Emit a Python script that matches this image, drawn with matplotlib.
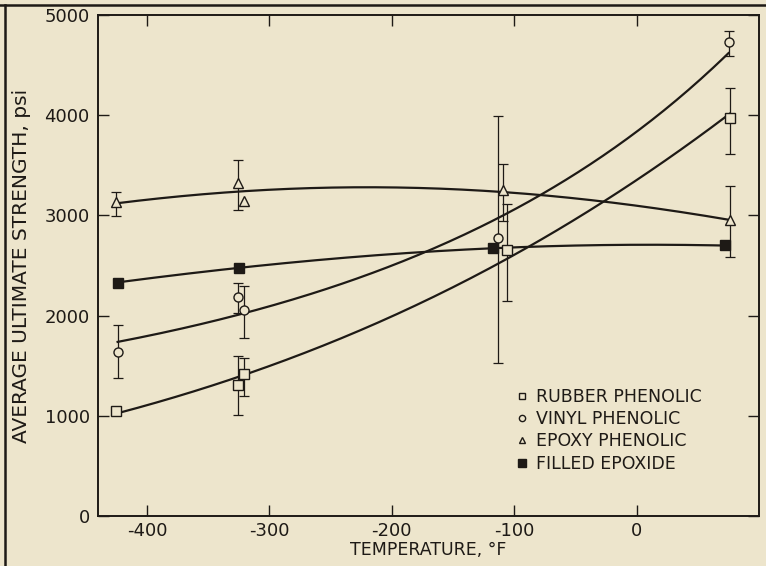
import matplotlib
matplotlib.use("Agg")
import matplotlib.pyplot as plt
from matplotlib.lines import Line2D
import numpy as np

nan = np.nan

# values (temperature in deg F, strength in psi)
rubber_x = [-425, -326, -321, -106, 76]
rubber_y = [1050, 1310, 1420, 2650, 3970]
rubber_lo = [nan, 1010, 1200, 2150, 3610]
rubber_hi = [nan, 1600, 1580, 3110, 4270]

vinyl_x = [-424, -326, -321, -113, 75]
vinyl_y = [1640, 2190, 2060, 2770, 4730]
vinyl_lo = [1380, 2030, 1780, 1530, 4590]
vinyl_hi = [1910, 2330, 2300, 3990, 4840]

epoxy_x = [-425, -326, -321, -109, 76]
epoxy_y = [3130, 3320, 3140, 3250, 2950]
epoxy_lo = [2990, 3050, nan, 2940, 2580]
epoxy_hi = [3230, 3550, nan, 3510, 3290]

filled_x = [-424, -325, -117, 72]
filled_y = [2330, 2480, 2670, 2700]

labels = ["RUBBER PHENOLIC", "VINYL PHENOLIC", "EPOXY PHENOLIC", "FILLED EPOXIDE"]

bg = "#ede5cc"
ink = "#1e1a16"

plt.rcParams["axes.unicode_minus"] = False
plt.rcParams["font.family"] = "DejaVu Sans"

fig = plt.figure(figsize=(7.66, 5.66), dpi=100, facecolor=bg)
ax = fig.add_axes([0.128, 0.0883, 0.863, 0.8852], facecolor=bg)


def draw(xs, ys, lo, hi, marker, ms, fill):
    xs = np.array(xs, float)
    ys = np.array(ys, float)
    # smooth trend line fitted to the points
    coef = np.polyfit(xs, np.log(ys), 2)
    xx = np.linspace(xs.min(), xs.max(), 200)
    ax.plot(xx, np.exp(np.polyval(coef, xx)), color=ink, lw=1.6, zorder=2)
    if lo is not None:
        err = [ys - np.array(lo), np.array(hi) - ys]
        ax.errorbar(xs, ys, yerr=err, fmt="none", ecolor=ink, elinewidth=0.9,
                    capsize=3.5, capthick=0.9, zorder=3)
    ax.plot(xs, ys, linestyle="none", marker=marker, ms=ms, mec=ink, mew=1.0,
            mfc=ink if fill else bg, zorder=4)


draw(rubber_x, rubber_y, rubber_lo, rubber_hi, "s", 7, False)
draw(vinyl_x, vinyl_y, vinyl_lo, vinyl_hi, "o", 6.5, False)
draw(epoxy_x, epoxy_y, epoxy_lo, epoxy_hi, "^", 7.5, False)
draw(filled_x, filled_y, None, None, "s", 7.5, True)

ax.set_xlim(-440, 100)
ax.set_ylim(0, 5000)
ax.set_xticks([-400, -300, -200, -100, 0])
ax.set_yticks([0, 1000, 2000, 3000, 4000, 5000])
ax.tick_params(direction="in", length=8, width=1.0, color=ink, labelcolor=ink,
               labelsize=13, top=True, right=True, pad=6)
ax.tick_params(axis="x", pad=4)
for s in ax.spines.values():
    s.set_color(ink)
    s.set_linewidth(1.4)

ax.set_xlabel("TEMPERATURE, °F", fontsize=12.5, color=ink, labelpad=1)
ax.set_ylabel("AVERAGE ULTIMATE STRENGTH, psi", fontsize=14.5, color=ink, labelpad=10)

handles = [
    Line2D([], [], ls="none", marker="s", ms=5, mec=ink, mfc=bg, mew=1.0),
    Line2D([], [], ls="none", marker="o", ms=4.5, mec=ink, mfc=bg, mew=1.0),
    Line2D([], [], ls="none", marker="^", ms=5, mec=ink, mfc=bg, mew=1.0),
    Line2D([], [], ls="none", marker="s", ms=5.5, mec=ink, mfc=ink, mew=1.0),
]
leg = ax.legend(handles, labels, loc="upper left", bbox_to_anchor=(0.623, 0.27),
                frameon=False, fontsize=12.5, handlelength=0.6, handletextpad=0.5,
                labelspacing=0.25, borderaxespad=0)
for t in leg.get_texts():
    t.set_color(ink)

# border lines of the scanned page
fig.add_artist(Line2D([0, 1], [1 - 5 / 566, 1 - 5 / 566], color=ink, lw=1.8,
                      transform=fig.transFigure))
fig.add_artist(Line2D([5 / 766, 5 / 766], [0, 1 - 5 / 566], color=ink, lw=1.8,
                      transform=fig.transFigure))

fig.savefig("out.png", dpi=100, facecolor=bg)
